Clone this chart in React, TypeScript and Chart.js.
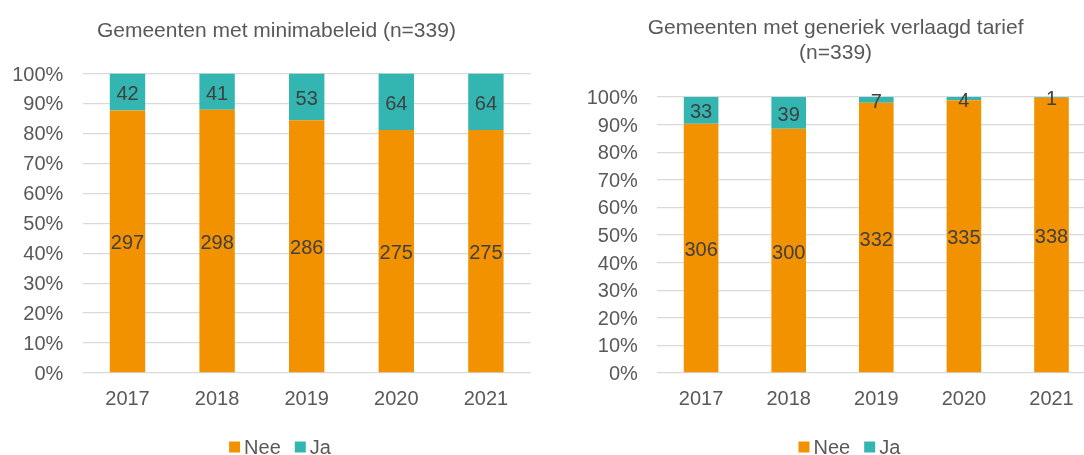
import React, { useEffect, useRef } from "react";
import { Chart, registerables } from "chart.js";

Chart.register(...registerables);

// ---- data ----
const years = ["2017", "2018", "2019", "2020", "2021"];
const seriesNames = ["Nee", "Ja"];
const minimaNee = [297, 298, 286, 275, 275];
const minimaJa = [42, 41, 53, 64, 64];
const tariefNee = [306, 300, 332, 335, 338];
const tariefJa = [33, 39, 7, 4, 1];
const titleMinima = "Gemeenten met minimabeleid (n=339)";
const titleTarief = ["Gemeenten met generiek verlaagd tarief", "(n=339)"];

// ---- style ----
const FONT = "'Liberation Sans', Arial, Helvetica, sans-serif";
const ORANGE = "#F39200";
const TEAL = "#33B6B1";
const TEXT = "#595959";
const LABEL = "#404040";
const GRID = "#D9D9D9";

const share = (part: number[], other: number[]) =>
  part.map((v, i) => (v / (v + other[i])) * 100);

const valueLabels = {
  id: "valueLabels",
  afterDatasetsDraw(chart: any, _args: any, o: any) {
    const ctx = chart.ctx;
    ctx.save();
    ctx.font = `${o.size}px ${FONT}`;
    ctx.fillStyle = o.color;
    ctx.textAlign = "center";
    ctx.textBaseline = "middle";
    chart.data.datasets.forEach((ds: any, i: number) => {
      const meta = chart.getDatasetMeta(i);
      meta.data.forEach((bar: any, j: number) => {
        const p = bar.getProps(["x", "y", "base"], true);
        ctx.fillText(String(ds.counts[j]), p.x, (p.y + p.base) / 2 + o.dy);
      });
    });
    ctx.restore();
  },
};

const boxLegend = {
  id: "boxLegend",
  afterDraw(chart: any, _args: any, o: any) {
    const ctx = chart.ctx;
    ctx.save();
    ctx.font = `${o.size}px ${FONT}`;
    ctx.textBaseline = "middle";
    ctx.textAlign = "left";
    const items = chart.data.datasets.map((ds: any) => ({
      text: ds.label,
      color: ds.backgroundColor,
      w: ctx.measureText(ds.label).width,
    }));
    const total = items.reduce(
      (s: number, it: any, i: number) => s + o.box + o.gap + it.w + (i ? o.itemGap : 0),
      0
    );
    let x = o.centerX - total / 2;
    items.forEach((it: any, i: number) => {
      if (i) x += o.itemGap;
      ctx.fillStyle = it.color;
      ctx.fillRect(x, o.y - o.box / 2, o.box, o.box);
      x += o.box + o.gap;
      ctx.fillStyle = o.color;
      ctx.fillText(it.text, x, o.y + 1);
      x += it.w;
    });
    ctx.restore();
  },
};

// moves the built-in title horizontally so that it is centred where the reference has it
const titleShift = {
  id: "titleShift",
  afterLayout(chart: any, _args: any, o: any) {
    const t = chart.titleBlock;
    if (t) {
      t.left += o.dx;
      t.right += o.dx;
    }
  },
};

type Spec = {
  nee: number[];
  ja: number[];
  title: string | string[];
  width: number;
  plotLeft: number;
  plotRight: number;
  plotTop: number;
  titleTop: number;
  titleCenter: number;
  legendX: number;
};

function makeConfig(s: Spec): any {
  const lh = 1.22;
  const titleLines = Array.isArray(s.title) ? s.title.length : 1;
  const plotBottom = 373;
  const xAxisHeight = 40;
  return {
    type: "bar",
    data: {
      labels: years,
      datasets: [
        {
          label: seriesNames[0],
          data: share(s.nee, s.ja),
          counts: s.nee,
          backgroundColor: ORANGE,
          borderWidth: 0,
          barPercentage: 0.395,
          categoryPercentage: 1,
        },
        {
          label: seriesNames[1],
          data: share(s.ja, s.nee),
          counts: s.ja,
          backgroundColor: TEAL,
          borderWidth: 0,
          barPercentage: 0.395,
          categoryPercentage: 1,
        },
      ],
    },
    options: {
      responsive: false,
      animation: false,
      events: [],
      layout: {
        padding: {
          left: 0,
          top: 0,
          right: s.width - s.plotRight,
          bottom: 455 - plotBottom - xAxisHeight,
        },
      },
      plugins: {
        legend: { display: false },
        tooltip: { enabled: false },
        title: {
          display: true,
          text: s.title,
          color: TEXT,
          font: { family: FONT, size: 21, weight: "normal", lineHeight: lh },
          padding: {
            top: s.titleTop,
            bottom: s.plotTop - s.titleTop - titleLines * 21 * lh,
          },
        },
        titleShift: { dx: s.titleCenter - s.plotRight / 2 },
        valueLabels: { size: 20, color: LABEL, dy: 2.5 },
        boxLegend: {
          size: 20,
          color: TEXT,
          box: 11,
          gap: 4,
          itemGap: 14,
          centerX: s.legendX,
          y: 447,
        },
      },
      scales: {
        x: {
          stacked: true,
          grid: { display: false, drawTicks: false },
          border: { display: false },
          ticks: {
            color: TEXT,
            padding: 14,
            font: { family: FONT, size: 20 },
            maxRotation: 0,
          },
          afterFit: (sc: any) => {
            sc.height = xAxisHeight;
          },
        },
        y: {
          stacked: true,
          min: 0,
          max: 100,
          grid: { color: GRID, lineWidth: 1.3, drawTicks: false },
          border: { display: false },
          ticks: {
            stepSize: 10,
            color: TEXT,
            padding: 19.4,
            labelOffset: 1.5,
            font: { family: FONT, size: 20 },
            callback: (v: any) => `${v}%`,
          },
          afterFit: (sc: any) => {
            sc.width = s.plotLeft;
          },
        },
      },
    },
    plugins: [titleShift, valueLabels, boxLegend],
  };
}

function BarChart({ spec, left }: { spec: Spec; left: number }) {
  const ref = useRef<HTMLCanvasElement | null>(null);
  useEffect(() => {
    if (!ref.current) return;
    const chart = new Chart(ref.current, makeConfig(spec));
    return () => chart.destroy();
  }, []);
  return (
    <canvas
      ref={ref}
      width={spec.width}
      height={455}
      style={{ position: "absolute", left, top: 0, width: spec.width, height: 455 }}
    />
  );
}

const leftSpec: Spec = {
  nee: minimaNee,
  ja: minimaJa,
  title: titleMinima,
  width: 553,
  plotLeft: 82.7,
  plotRight: 530.7,
  plotTop: 73.5,
  titleTop: 18.5,
  titleCenter: 276.4,
  legendX: 280,
};

const rightSpec: Spec = {
  nee: tariefNee,
  ja: tariefJa,
  title: titleTarief,
  width: 591,
  plotLeft: 117.3,
  plotRight: 555.3,
  plotTop: 97,
  titleTop: 15,
  titleCenter: 295.6,
  legendX: 309.4,
};

export default function App() {
  return (
    <div
      style={{
        position: "fixed",
        left: 0,
        top: 0,
        width: 1084,
        height: 455,
        overflow: "hidden",
        background: "#ffffff",
      }}
    >
      <BarChart spec={leftSpec} left={0} />
      <BarChart spec={rightSpec} left={540} />
    </div>
  );
}
